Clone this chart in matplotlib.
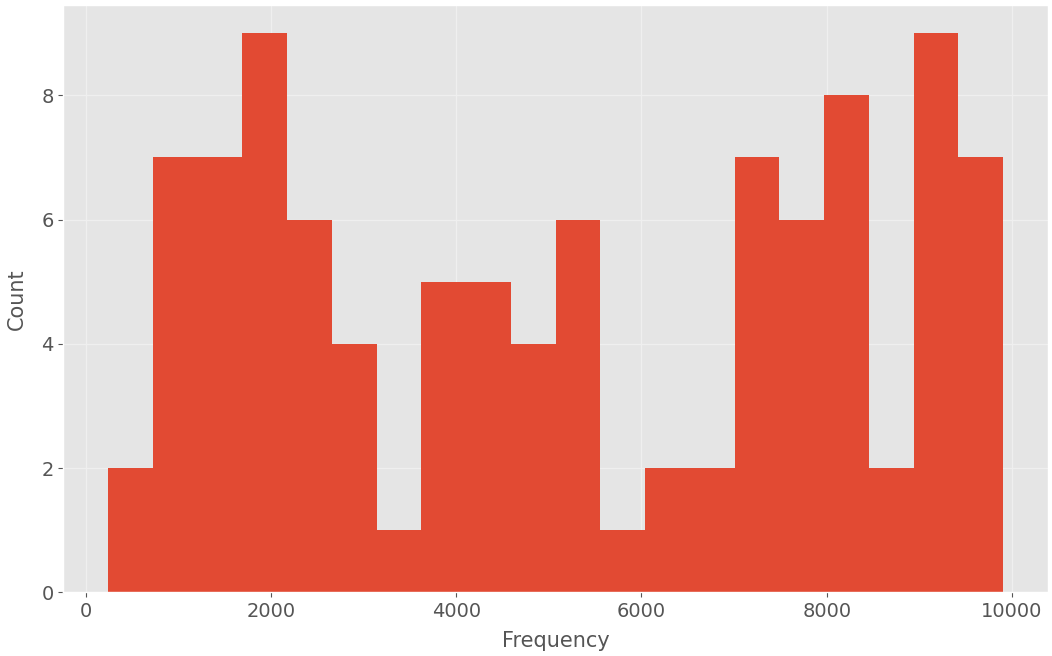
import matplotlib
matplotlib.use("Agg")
import matplotlib.pyplot as plt
import numpy as np

plt.style.use("ggplot")

# Histogram bin edges (20 equal-width bins) and the count in each bin
bin_start = 243
bin_stop = 9905
n_bins = 20
counts = [2, 7, 7, 9, 6, 4, 1, 5, 5, 4, 6, 1, 2, 2, 7, 6, 8, 2, 9, 7]

x_ticks = [0, 2000, 4000, 6000, 8000, 10000]
y_ticks = [0, 2, 4, 6, 8]

edges = np.linspace(bin_start, bin_stop, n_bins + 1)
centers = (edges[:-1] + edges[1:]) / 2

fig = plt.figure(figsize=(10.52, 6.56), dpi=100)
ax = fig.add_axes([0.0602, 0.097, 0.936, 0.895])

ax.hist(centers, bins=edges, weights=counts, histtype="stepfilled",
        color="#E24A33", linewidth=0)

ax.grid(True, color="#EFEFEF", linewidth=1.0)
ax.set_xticks(x_ticks)
ax.set_yticks(y_ticks)
ax.tick_params(axis="both", labelsize=14, colors="#555555")
ax.set_xlabel("Frequency", fontsize=15, color="#555555", labelpad=7)
ax.set_ylabel("Count", fontsize=15, color="#555555", labelpad=10)
ax.set_ylim(0, 9.45)

fig.savefig("out.png", dpi=100)
